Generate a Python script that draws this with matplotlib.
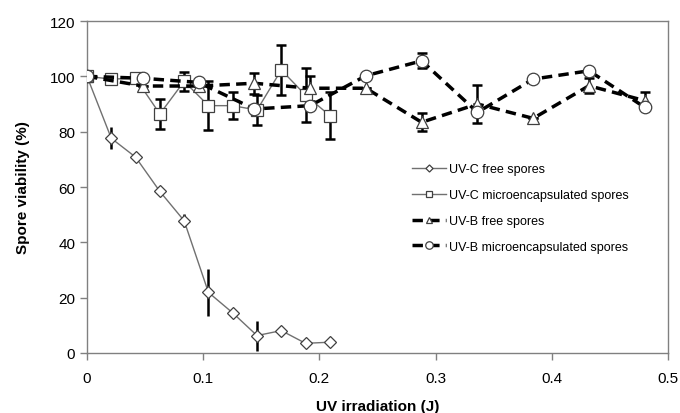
import matplotlib
matplotlib.use('Agg')
import matplotlib.pyplot as plt

plt.rcParams['font.family'] = ['Liberation Sans', 'DejaVu Sans']

# UV-C free spores
x_cf = [0, 0.0209, 0.0418, 0.0627, 0.0836, 0.1045, 0.1254, 0.1463, 0.1672, 0.1881, 0.209]
y_cf = [100, 77.6, 70.8, 58.4, 47.8, 21.9, 14.5, 6.3, 8.1, 3.5, 3.9]
e_cf = [0, 4.0, 1.2, 0, 2.4, 8.6, 0, 5.4, 0, 0, 0]

# UV-C microencapsulated spores
x_cm = [0, 0.0209, 0.0418, 0.0627, 0.0836, 0.1045, 0.1254, 0.1463, 0.1672, 0.1881, 0.209]
y_cm = [100, 99.0, 99.3, 86.4, 98.2, 89.4, 89.4, 87.8, 102.3, 93.2, 85.8]
e_cm = [0, 0, 0, 5.5, 3.5, 8.8, 4.8, 5.5, 9.0, 9.7, 8.4]

# UV-B free spores
x_bf = [0, 0.048, 0.096, 0.144, 0.192, 0.240, 0.288, 0.336, 0.384, 0.432, 0.480]
y_bf = [100, 96.5, 96.5, 97.5, 95.7, 95.7, 83.4, 90.0, 84.8, 96.6, 91.2]
e_bf = [0, 0, 0, 3.8, 4.5, 0, 3.3, 7.0, 0, 2.7, 3.0]

# UV-B microencapsulated spores
x_bm = [0, 0.048, 0.096, 0.144, 0.192, 0.240, 0.288, 0.336, 0.384, 0.432, 0.480]
y_bm = [100, 99.3, 97.8, 88.2, 89.4, 100.2, 105.6, 87.0, 99.0, 102.0, 88.8]
e_bm = [0, 0, 0, 0, 0, 0, 2.7, 0, 0, 0, 0]

fig = plt.figure(figsize=(6.8, 4.14), dpi=100)
ax = fig.add_axes([87/680, 1-354/414, (668-87)/680, (354-22)/414])

ek = dict(ecolor='black', elinewidth=1.8, capsize=3.5, capthick=1.8, zorder=2)
mk = dict(markerfacecolor='white', markeredgecolor='#404040', markeredgewidth=0.9, zorder=3)

ax.errorbar(x_bf, y_bf, yerr=e_bf, fmt='none', **ek)
ax.errorbar(x_bm, y_bm, yerr=e_bm, fmt='none', **ek)
ax.errorbar(x_cf, y_cf, yerr=e_cf, fmt='none', ecolor='black', elinewidth=1.8, capsize=0, zorder=2)
ax.errorbar(x_cm, y_cm, yerr=e_cm, fmt='none', **ek)

ax.plot(x_cf, y_cf, color='#707070', lw=1.0, marker='D', ms=6, label='UV-C free spores', **mk)
ax.plot(x_cm, y_cm, color='#707070', lw=1.0, marker='s', ms=8, label='UV-C microencapsulated spores', **mk)
ax.plot(x_bf, y_bf, color='black', lw=2.5, ls=(0, (3, 1.8)), marker='^', ms=8, label='UV-B free spores', **mk)
ax.plot(x_bm, y_bm, color='black', lw=2.5, ls=(0, (3, 1.8)), marker='o', ms=9, label='UV-B microencapsulated spores', **mk)

ax.set_xlim(0, 0.5)
ax.set_ylim(0, 120)
ax.set_xticks([0, 0.1, 0.2, 0.3, 0.4, 0.5])
ax.set_xticklabels(['0', '0.1', '0.2', '0.3', '0.4', '0.5'])
ax.set_yticks([0, 20, 40, 60, 80, 100, 120])
ax.tick_params(labelsize=11, direction='out', length=5, color='#808080', width=1)
ax.tick_params(axis='x', pad=8)
for s in ax.spines.values():
    s.set_color('#808080')
    s.set_linewidth(1.0)

ax.set_xlabel('UV irradiation (J)', fontsize=11, fontweight='bold', labelpad=10)
ax.set_ylabel('Spore viability (%)', fontsize=11, fontweight='bold', labelpad=14)

leg = ax.legend(loc='upper left', bbox_to_anchor=(0.54, 0.605), frameon=False, fontsize=9,
                handlelength=2.7, labelspacing=1.1, handletextpad=0.3, markerscale=0.6)

fig.savefig('out.png', dpi=100)
